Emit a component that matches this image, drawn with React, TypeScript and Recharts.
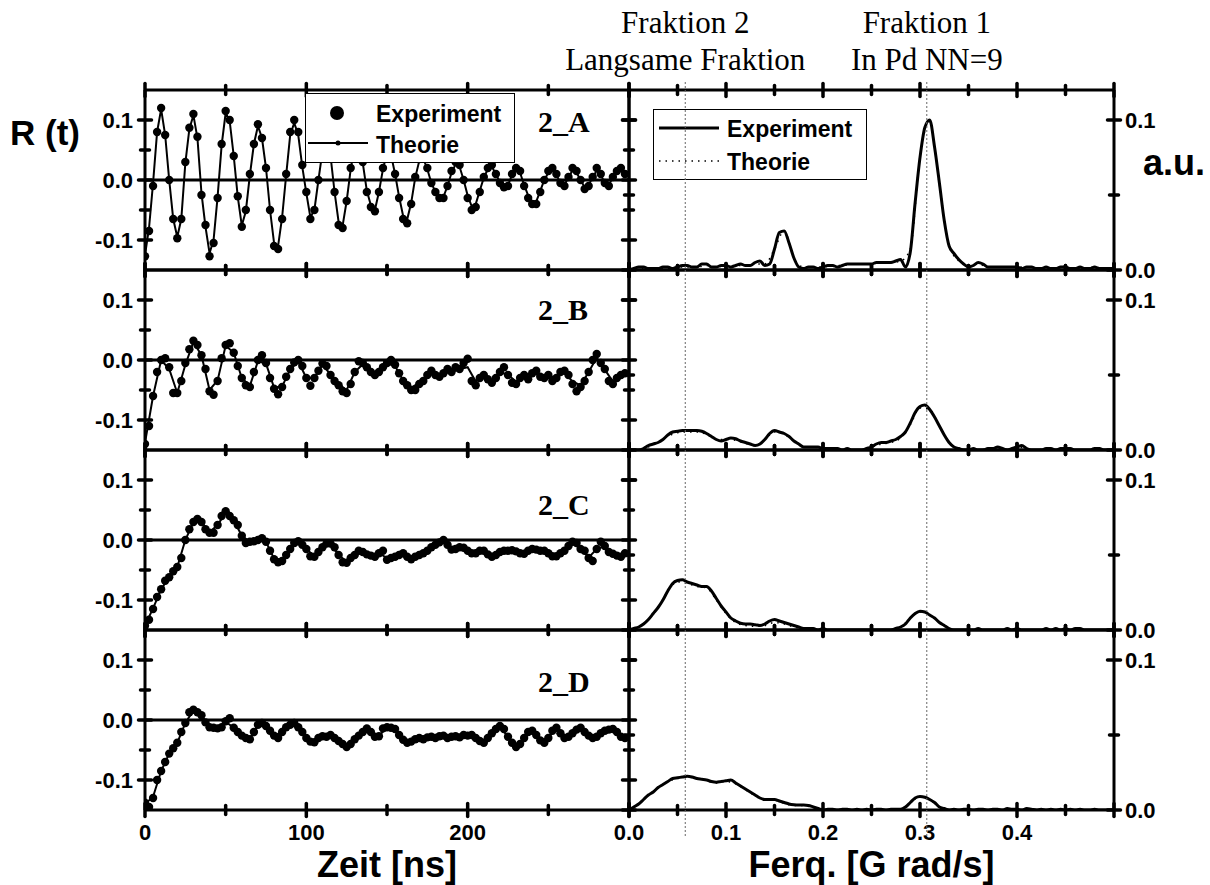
import React from 'react';
import { LineChart, Line, XAxis, YAxis, ReferenceLine, Legend } from 'recharts';

// sampling steps of the stored series
const T_STEP = 2.5; // ns, experiment R(t)
const TH_STEP_A = 2.5; // ns, theory 2_A
const TH_STEP = 5; // ns, theory 2_B..2_D
const F_STEP = 0.005; // G rad/s, experiment spectra
const TH_F_STEP = 0.01; // G rad/s, theory spectra

// R(t) experiment, t = 0 .. 297.5 ns
const expA = [
  -0.127, -0.085, -0.01, 0.08, 0.12, 0.075, 0.0, -0.065, -0.097, -0.065,
  0.03, 0.087, 0.11, 0.072, -0.025, -0.075, -0.127, -0.105, -0.03, 0.06,
  0.115, 0.1, 0.04, -0.027, -0.078, -0.05, 0.01, 0.06, 0.093, 0.07,
  0.02, -0.05, -0.11, -0.115, -0.065, 0.01, 0.08, 0.1, 0.08, 0.025,
  -0.02, -0.065, -0.05, 0.0, 0.05, 0.07, 0.04, -0.02, -0.075, -0.08,
  -0.035, 0.02, 0.06, 0.065, 0.03, -0.02, -0.045, -0.052, -0.02, 0.02,
  0.05, 0.045, 0.01, -0.03, -0.065, -0.072, -0.04, 0.005, 0.035, 0.04,
  0.02, -0.005, -0.02, -0.03, -0.03, -0.01, 0.015, 0.03, 0.025, 0.0,
  -0.03, -0.05, -0.045, -0.02, 0.005, 0.02, 0.025, 0.01, -0.005, -0.012,
  -0.01, 0.01, 0.02, 0.015, -0.01, -0.03, -0.04, -0.04, -0.02, 0.0,
  0.015, 0.02, 0.01, -0.005, -0.01, 0.005, 0.02, 0.015, 0.0, -0.015,
  -0.01, 0.005, 0.02, 0.01, -0.005, -0.01, 0.005, 0.015, 0.02, 0.01,
];
const expB = [
  -0.14, -0.11, -0.06, -0.02, 0.0, 0.003, -0.012, -0.055, -0.055, -0.035,
  -0.005, 0.018, 0.032, 0.025, 0.008, -0.015, -0.052, -0.058, -0.035, 0.003,
  0.025, 0.028, 0.012, -0.01, -0.03, -0.042, -0.045, -0.02, 0.0, 0.008,
  -0.005, -0.03, -0.048, -0.057, -0.045, -0.028, -0.015, -0.004, 0.0, -0.01,
  -0.03, -0.043, -0.03, -0.018, -0.006, -0.01, -0.025, -0.035, -0.042, -0.052,
  -0.055, -0.04, -0.02, -0.002, -0.005, -0.012, -0.02, -0.025, -0.02, -0.012,
  -0.005, 0.0, -0.008, -0.022, -0.035, -0.042, -0.05, -0.05, -0.04, -0.035,
  -0.025, -0.018, -0.025, -0.028, -0.022, -0.015, -0.02, -0.012, -0.015, -0.005,
  0.002, -0.035, -0.042, -0.03, -0.025, -0.032, -0.038, -0.03, -0.02, -0.012,
  -0.025, -0.038, -0.04, -0.03, -0.025, -0.032, -0.022, -0.018, -0.028, -0.03,
  -0.025, -0.035, -0.03, -0.02, -0.018, -0.025, -0.04, -0.052, -0.045, -0.035,
  -0.02, 0.0, 0.01, -0.005, -0.015, -0.035, -0.04, -0.03, -0.025, -0.022,
];
const expC = [
  -0.143, -0.133, -0.115, -0.095, -0.082, -0.068, -0.062, -0.052, -0.045, -0.03,
  0.0, 0.018, 0.03, 0.035, 0.03, 0.018, 0.012, 0.012, 0.025, 0.04,
  0.048, 0.04, 0.033, 0.025, 0.007, -0.005, -0.003, -0.002, 0.0, 0.003,
  -0.003, -0.018, -0.032, -0.037, -0.035, -0.025, -0.015, -0.005, -0.002, -0.008,
  -0.015, -0.027, -0.028, -0.02, -0.012, -0.006, -0.006, -0.012, -0.025, -0.037,
  -0.038, -0.03, -0.025, -0.018, -0.02, -0.024, -0.026, -0.028, -0.022, -0.018,
  -0.033, -0.03, -0.028, -0.025, -0.022, -0.028, -0.032, -0.028, -0.025, -0.022,
  -0.018, -0.012, -0.008, -0.004, 0.0, -0.008, -0.016, -0.015, -0.012, -0.013,
  -0.018, -0.022, -0.022, -0.018, -0.018, -0.024, -0.028, -0.025, -0.02, -0.018,
  -0.018, -0.017, -0.019, -0.022, -0.023, -0.018, -0.015, -0.016, -0.018, -0.018,
  -0.022, -0.027, -0.027, -0.022, -0.018, -0.01, -0.003, -0.005, -0.015, -0.018,
  -0.03, -0.035, -0.015, -0.003, -0.01, -0.02, -0.023, -0.026, -0.028, -0.022,
];
const expD = [
  -0.138, -0.145, -0.13, -0.1, -0.085, -0.07, -0.056, -0.047, -0.038, -0.02,
  -0.005, 0.013, 0.017, 0.013, 0.008, -0.004, -0.012, -0.013, -0.014, -0.012,
  -0.002, 0.003, -0.013, -0.02, -0.026, -0.03, -0.032, -0.02, -0.008, -0.005,
  -0.01, -0.018, -0.026, -0.03, -0.02, -0.012, -0.008, -0.005, -0.012, -0.02,
  -0.03, -0.036, -0.037, -0.03, -0.027, -0.028, -0.025, -0.03, -0.035, -0.04,
  -0.045, -0.04, -0.032, -0.026, -0.02, -0.014, -0.02, -0.028, -0.027, -0.014,
  -0.012, -0.013, -0.015, -0.025, -0.033, -0.038, -0.036, -0.032, -0.03, -0.032,
  -0.029, -0.028, -0.03, -0.027, -0.026, -0.03, -0.028, -0.027, -0.029, -0.025,
  -0.026, -0.025, -0.03, -0.035, -0.038, -0.03, -0.022, -0.015, -0.01, -0.015,
  -0.028, -0.038, -0.045, -0.04, -0.03, -0.02, -0.018, -0.025, -0.034, -0.038,
  -0.03, -0.018, -0.013, -0.022, -0.03, -0.028, -0.022, -0.016, -0.013, -0.02,
  -0.026, -0.03, -0.028, -0.022, -0.018, -0.016, -0.015, -0.02, -0.028, -0.03,
];

// R(t) theory
const thA = [
  -0.125, -0.08, -0.005, 0.08, 0.118, 0.075, 0.0, -0.065, -0.095, -0.065,
  0.028, 0.085, 0.108, 0.07, -0.022, -0.078, -0.122, -0.1, -0.028, 0.058,
  0.112, 0.098, 0.04, -0.028, -0.076, -0.052, 0.008, 0.06, 0.09, 0.07,
  0.02, -0.05, -0.105, -0.11, -0.062, 0.008, 0.075, 0.095, 0.075, 0.022,
  -0.022, -0.062, -0.05, 0.0, 0.048, 0.066, 0.04, -0.02, -0.07, -0.076,
  -0.035, 0.018, 0.056, 0.06, 0.028, -0.018, -0.042, -0.05, -0.02, 0.018,
  0.046, 0.042, 0.01, -0.028, -0.06, -0.066, -0.038, 0.004, 0.032, 0.036,
  0.018, -0.005, -0.02, -0.028, -0.028, -0.01, 0.012, 0.026, 0.022, 0.0,
  -0.026, -0.044, -0.04, -0.018, 0.004, 0.018, 0.022, 0.01, -0.004, -0.01,
  -0.008, 0.008, 0.016, 0.012, -0.008, -0.026, -0.036, -0.036, -0.018, 0.0,
  0.012, 0.016, 0.008, -0.004, -0.008, 0.004, 0.016, 0.012, 0.0, -0.012,
  -0.008, 0.004, 0.016, 0.008, -0.004, -0.008, 0.004, 0.012, 0.016, 0.008,
];
const thB = [
  -0.138, -0.06, 0.0, -0.015, -0.055, -0.008, 0.03, 0.008, -0.05, -0.034,
  0.024, 0.012, -0.03, -0.043, -0.002, -0.006, -0.046, -0.044, -0.016, -0.002,
  -0.03, -0.03, -0.008, -0.024, -0.04, -0.05, -0.02, -0.007, -0.02, -0.02,
  -0.006, -0.01, -0.034, -0.046, -0.038, -0.025, -0.024, -0.022, -0.02, -0.015,
  -0.012, -0.036, -0.026, -0.034, -0.02, -0.025, -0.036, -0.026, -0.022, -0.026,
  -0.026, -0.03, -0.02, -0.036, -0.042, -0.02, 0.004, -0.016, -0.036, -0.026, -0.022,
];
const thC = [
  -0.142, -0.114, -0.082, -0.062, -0.045, 0.0, 0.03, 0.03, 0.013, 0.025,
  0.046, 0.033, 0.007, -0.003, 0.0, -0.003, -0.031, -0.034, -0.015, -0.003,
  -0.015, -0.027, -0.012, -0.007, -0.025, -0.036, -0.025, -0.02, -0.026, -0.022,
  -0.03, -0.027, -0.022, -0.03, -0.025, -0.018, -0.008, -0.001, -0.015, -0.012,
  -0.018, -0.022, -0.018, -0.027, -0.02, -0.018, -0.019, -0.022, -0.015, -0.018,
  -0.022, -0.026, -0.018, -0.004, -0.015, -0.029, -0.015, -0.01, -0.022, -0.027, -0.022,
];
const thD = [
  -0.14, -0.128, -0.085, -0.056, -0.038, -0.005, 0.016, 0.008, -0.012, -0.014,
  -0.003, -0.013, -0.026, -0.031, -0.009, -0.01, -0.026, -0.02, -0.008, -0.012,
  -0.03, -0.036, -0.027, -0.025, -0.035, -0.044, -0.032, -0.02, -0.02, -0.026,
  -0.013, -0.016, -0.033, -0.036, -0.031, -0.029, -0.03, -0.026, -0.028, -0.029,
  -0.026, -0.03, -0.037, -0.022, -0.011, -0.028, -0.044, -0.03, -0.019, -0.034,
  -0.03, -0.014, -0.029, -0.022, -0.014, -0.026, -0.028, -0.019, -0.016, -0.027, -0.03,
];

// spectra, experiment, w = 0 .. 0.5
const specA = [
  0.0, 0.001, 0.002, 0.002, 0.001, 0.001, 0.001, 0.002, 0.002, 0.001,
  0.002, 0.003, 0.003, 0.002, 0.002, 0.004, 0.004, 0.002, 0.002, 0.003,
  0.003, 0.002, 0.003, 0.004, 0.003, 0.003, 0.005, 0.006, 0.003, 0.004,
  0.014, 0.025, 0.026, 0.018, 0.008, 0.002, 0.001, 0.002, 0.002, 0.001,
  0.002, 0.003, 0.003, 0.002, 0.003, 0.004, 0.004, 0.004, 0.004, 0.004,
  0.004, 0.005, 0.005, 0.005, 0.005, 0.006, 0.007, 0.002, 0.012, 0.045,
  0.075, 0.095, 0.1, 0.082, 0.058, 0.033, 0.016, 0.011, 0.007, 0.004,
  0.002, 0.003, 0.005, 0.004, 0.002, 0.002, 0.002, 0.002, 0.002, 0.002,
  0.002, 0.001, 0.002, 0.002, 0.001, 0.001, 0.002, 0.001, 0.001, 0.002,
  0.002, 0.001, 0.001, 0.002, 0.001, 0.001, 0.002, 0.001, 0.001, 0.001,
  0.001,
];
const specB = [
  0.0, 0.0, 0.0, 0.001, 0.003, 0.004, 0.005, 0.007, 0.01, 0.012,
  0.0125, 0.013, 0.013, 0.013, 0.013, 0.0125, 0.011, 0.009, 0.007, 0.006,
  0.007, 0.008, 0.0075, 0.006, 0.005, 0.004, 0.003, 0.004, 0.007, 0.011,
  0.013, 0.012, 0.011, 0.009, 0.006, 0.004, 0.002, 0.002, 0.002, 0.002,
  0.001, 0.001, 0.001, 0.001, 0.0, 0.001, 0.0, 0.0, 0.0, 0.001,
  0.002, 0.004, 0.005, 0.005, 0.006, 0.007, 0.009, 0.012, 0.018, 0.025,
  0.029, 0.03, 0.027, 0.022, 0.016, 0.01, 0.005, 0.002, 0.001, 0.0,
  0.0, 0.001, 0.0, 0.0, 0.001, 0.001, 0.002, 0.001, 0.0, 0.001,
  0.002, 0.003, 0.001, 0.0, 0.0, 0.0, 0.001, 0.001, 0.0, 0.001,
  0.001, 0.001, 0.0, 0.0, 0.0, 0.0, 0.001, 0.001, 0.0, 0.0,
  0.0,
];
const specC = [
  0.0, 0.001, 0.002, 0.004, 0.007, 0.011, 0.015, 0.02, 0.026, 0.031,
  0.033, 0.0335, 0.032, 0.031, 0.03, 0.029, 0.029, 0.026, 0.021, 0.016,
  0.012, 0.008, 0.006, 0.0045, 0.004, 0.004, 0.0035, 0.003, 0.004, 0.006,
  0.007, 0.006, 0.005, 0.004, 0.003, 0.002, 0.001, 0.001, 0.001, 0.0,
  0.001, 0.0, 0.0, 0.0, 0.0, 0.0, 0.0, 0.0, 0.0, 0.0,
  0.0, 0.0, 0.0, 0.0, 0.0, 0.001, 0.002, 0.004, 0.008, 0.011,
  0.0125, 0.012, 0.01, 0.008, 0.005, 0.003, 0.001, 0.0, 0.0, 0.0,
  0.0, 0.0, 0.001, 0.0, 0.0, 0.0, 0.0, 0.0, 0.001, 0.0,
  0.001, 0.0, 0.0, 0.0, 0.0, 0.0, 0.001, 0.0, 0.001, 0.0,
  0.001, 0.0, 0.001, 0.001, 0.0, 0.0, 0.0, 0.0, 0.0, 0.0,
  0.0,
];
const specD = [
  0.0, 0.002, 0.004, 0.007, 0.01, 0.012, 0.015, 0.017, 0.019, 0.021,
  0.0215, 0.022, 0.0225, 0.022, 0.021, 0.0205, 0.02, 0.019, 0.0185, 0.019,
  0.0195, 0.02, 0.018, 0.016, 0.014, 0.012, 0.01, 0.008, 0.007, 0.007,
  0.007, 0.006, 0.005, 0.004, 0.0035, 0.0033, 0.0033, 0.003, 0.002, 0.001,
  0.0, 0.0005, 0.0005, 0.0, 0.0005, 0.0005, 0.0, 0.0005, 0.0, 0.0005,
  0.0, 0.0005, 0.0005, 0.0, 0.0005, 0.0005, 0.0005, 0.002, 0.005, 0.008,
  0.009, 0.0085, 0.007, 0.005, 0.002, 0.001, 0.0, 0.0005, 0.0, 0.0005,
  0.0005, 0.0, 0.0005, 0.0005, 0.0, 0.0005, 0.0005, 0.0, 0.001, 0.0005,
  0.0005, 0.0, 0.001, 0.0005, 0.0, 0.0005, 0.0, 0.0005, 0.0, 0.0005,
  0.0, 0.0005, 0.0, 0.0005, 0.0, 0.0, 0.0005, 0.0, 0.0, 0.0,
  0.0,
];

// spectra, theory
const thFA = [
  0.0, 0.001, 0.001, 0.001, 0.001, 0.002, 0.002, 0.002, 0.003, 0.002,
  0.003, 0.003, 0.003, 0.004, 0.004, 0.014, 0.026, 0.008, 0.002, 0.002,
  0.002, 0.003, 0.003, 0.004, 0.004, 0.004, 0.005, 0.005, 0.006, 0.014,
  0.076, 0.099, 0.057, 0.016, 0.006, 0.003, 0.004, 0.002, 0.002, 0.002,
  0.002, 0.002, 0.001, 0.002, 0.001, 0.002, 0.001, 0.001, 0.002, 0.001, 0.001,
];
const thFB = [
  0.0, 0.0, 0.002, 0.005, 0.009, 0.0115, 0.012, 0.012, 0.0105, 0.007,
  0.007, 0.0065, 0.0045, 0.003, 0.007, 0.012, 0.0105, 0.006, 0.002, 0.002,
  0.001, 0.001, 0.0, 0.0, 0.0, 0.002, 0.004, 0.005, 0.008, 0.017,
  0.028, 0.027, 0.016, 0.005, 0.001, 0.0, 0.0, 0.001, 0.002, 0.0,
  0.002, 0.001, 0.0, 0.001, 0.0, 0.001, 0.0, 0.0, 0.001, 0.0, 0.0,
];
const thFC = [
  0.0, 0.002, 0.007, 0.015, 0.026, 0.032, 0.031, 0.029, 0.028, 0.02,
  0.011, 0.005, 0.003, 0.0025, 0.003, 0.005, 0.004, 0.002, 0.001, 0.0,
  0.0, 0.0, 0.0, 0.0, 0.0, 0.0, 0.0, 0.0, 0.002, 0.008,
  0.012, 0.01, 0.005, 0.001, 0.0, 0.0, 0.0, 0.0, 0.0, 0.0,
  0.001, 0.0, 0.0, 0.0, 0.0, 0.0, 0.0, 0.0, 0.0, 0.0, 0.0,
];
const thFD = [
  0.0, 0.004, 0.01, 0.015, 0.019, 0.021, 0.022, 0.021, 0.0195, 0.018,
  0.019, 0.0175, 0.0135, 0.0095, 0.0065, 0.0065, 0.0045, 0.003, 0.003, 0.0015,
  0.0, 0.0, 0.0, 0.0, 0.0, 0.0, 0.0, 0.0, 0.0005, 0.005,
  0.0088, 0.0068, 0.002, 0.0, 0.0, 0.0, 0.0, 0.0, 0.0, 0.0,
  0.0, 0.0, 0.0, 0.0, 0.0, 0.0, 0.0, 0.0, 0.0, 0.0, 0.0,
];

const PANEL_NAMES = ['2_A', '2_B', '2_C', '2_D'];
const TIME_TICKS = [0, 50, 100, 150, 200, 250, 300];
const TIME_MAJOR = [0, 100, 200, 300];
const TIME_LABELS = [0, 100, 200];
const R_TICKS = [-0.1, -0.05, 0, 0.05, 0.1];
const R_LABELS = [-0.1, 0, 0.1];
const FREQ_TICKS = [0, 0.05, 0.1, 0.15, 0.2, 0.25, 0.3, 0.35, 0.4, 0.45, 0.5];
const FREQ_MAJOR = [0, 0.1, 0.2, 0.3, 0.4, 0.5];
const FREQ_LABELS = [0, 0.1, 0.2, 0.3, 0.4];
const AMP_TICKS = [0, 0.05, 0.1];
const AMP_LABELS = [0, 0.1];
const FRACTION_AT = [0.058, 0.307];
const FRACTION_TEXT = [
  ['Fraktion 2', 'Langsame Fraktion'],
  ['Fraktion 1', 'In Pd NN=9'],
];

const EXP_LEFT = [expA, expB, expC, expD];
const TH_LEFT = [thA, thB, thC, thD];
const TH_LEFT_STEP = [TH_STEP_A, TH_STEP, TH_STEP, TH_STEP];
const SPEC = [specA, specB, specC, specD];
const TH_SPEC = [thFA, thFB, thFC, thFD];

// layout
const LEFT_X = 145;
const MID_X = 629;
const RIGHT_X = 1114;
const ROW_TOP = [90, 270, 450, 630];
const PANEL_H = 180;
const NAME_DY = [42, 50, 65, 62];
const AX = 1; // px reserved for each axis strip

const SANS = '"Liberation Sans", Arial, Helvetica, sans-serif';
const SERIF = '"Liberation Serif", "Times New Roman", serif';
const tickFont = { fontFamily: SANS, fontWeight: 700, fontSize: 22, fill: '#000' };
const AXIS_LINE = { stroke: '#000', strokeWidth: 3 };

const toPoints = (vals: number[], step: number) =>
  vals.map((v, i) => ({ x: Math.round(i * step * 10000) / 10000, y: v }));

const has = (arr: number[], v: number) => arr.some(a => Math.abs(a - v) < 1e-9);

type Side = 'left' | 'right' | 'top' | 'bottom';

function tickRenderer(side: Side, labels: number[], majors: number[], fmt: (v: number) => string) {
  return (props: any) => {
    const { x, y, payload } = props;
    const v = payload.value;
    const len = has(majors, v) ? 6.5 : 4.5;
    const vert = side === 'left' || side === 'right';
    let label = null;
    if (has(labels, v)) {
      if (side === 'left') {
        label = <text x={x - 12} y={y + 8} textAnchor="end" {...tickFont}>{fmt(v)}</text>;
      } else if (side === 'right') {
        label = <text x={x + 11} y={y + 8} textAnchor="start" {...tickFont}>{fmt(v)}</text>;
      } else if (side === 'bottom') {
        label = <text x={x} y={y + 30} textAnchor="middle" {...tickFont}>{fmt(v)}</text>;
      }
    }
    return (
      <g>
        <line
          x1={vert ? x - len : x}
          x2={vert ? x + len : x}
          y1={vert ? y : y - len}
          y2={vert ? y : y + len}
          stroke="#000"
          strokeWidth={3.5}
          strokeLinecap="round"
        />
        {label}
      </g>
    );
  };
}

const legendText = { fontFamily: SANS, fontWeight: 700, fontSize: 23, fill: '#000' };

const TimeLegend = () => (
  <div style={{ width: 210, height: 70, border: '1.5px solid #000', background: '#fff', boxSizing: 'border-box' }}>
    <svg width={207} height={67}>
      <circle cx={31} cy={19} r={7} fill="#000" />
      <text x={70} y={28} {...legendText}>Experiment</text>
      <line x1={2} x2={62} y1={49} y2={49} stroke="#000" strokeWidth={2} />
      <circle cx={32} cy={49} r={2.5} fill="#000" />
      <text x={70} y={59} {...legendText}>Theorie</text>
    </svg>
  </div>
);

const FreqLegend = () => (
  <div style={{ width: 214, height: 71, border: '1.5px solid #000', background: '#fff', boxSizing: 'border-box' }}>
    <svg width={211} height={68}>
      <line x1={5} x2={65} y1={18} y2={18} stroke="#000" strokeWidth={3} />
      <text x={73} y={27} {...legendText}>Experiment</text>
      <line x1={5} x2={65} y1={51} y2={51} stroke="#000" strokeWidth={1.5} strokeDasharray="1.5 5" />
      <text x={73} y={60} {...legendText}>Theorie</text>
    </svg>
  </div>
);

// shared axis props; each strip is AX px wide and sits just outside the plot box
const axisCommon = {
  allowDataOverflow: true,
  axisLine: AXIS_LINE,
  tickLine: false,
  tickSize: 0,
  tickMargin: 0,
  interval: 0 as const,
};

function TimePanel({ row }: { row: number }) {
  const last = row === ROW_TOP.length - 1;
  const fmtT = (v: number) => String(v);
  const fmtR = (v: number) => v.toFixed(1);
  return (
    <div style={{ position: 'absolute', left: LEFT_X - AX, top: ROW_TOP[row] - AX }}>
      <LineChart width={MID_X - LEFT_X + 2 * AX} height={PANEL_H + 2 * AX} margin={{ top: 0, right: 0, bottom: 0, left: 0 }}>
        <XAxis xAxisId="b" orientation="bottom" type="number" dataKey="x" domain={[0, 300]} ticks={TIME_TICKS}
          height={AX} {...axisCommon} tick={tickRenderer('bottom', last ? TIME_LABELS : [], TIME_MAJOR, fmtT)} />
        <XAxis xAxisId="t" orientation="top" type="number" dataKey="x" domain={[0, 300]} ticks={TIME_TICKS}
          height={AX} {...axisCommon} tick={tickRenderer('top', [], TIME_MAJOR, fmtT)} />
        <YAxis yAxisId="l" orientation="left" type="number" domain={[-0.15, 0.15]} ticks={R_TICKS}
          width={AX} {...axisCommon} tick={tickRenderer('left', R_LABELS, R_LABELS, fmtR)} />
        <YAxis yAxisId="r" orientation="right" type="number" domain={[-0.15, 0.15]} ticks={R_TICKS}
          width={AX} {...axisCommon} tick={tickRenderer('right', [], R_LABELS, fmtR)} />
        <ReferenceLine xAxisId="b" yAxisId="l" y={0} stroke="#000" strokeWidth={3} />
        <Line xAxisId="b" yAxisId="l" data={toPoints(TH_LEFT[row], TH_LEFT_STEP[row])} dataKey="y" name="Theorie"
          stroke="#000" strokeWidth={2} dot={false} activeDot={false} isAnimationActive={false} />
        <Line xAxisId="b" yAxisId="l" data={toPoints(EXP_LEFT[row], T_STEP)} dataKey="y" name="Experiment"
          stroke="none" strokeWidth={0} dot={{ r: 4.2, fill: '#000', stroke: 'none' }} activeDot={false}
          isAnimationActive={false} />
        {row === 0 && (
          <Legend layout="vertical" align="center" verticalAlign="middle" content={() => <TimeLegend />}
            wrapperStyle={{ left: 160 + AX, top: 3 + AX, width: 210, height: 70 }} />
        )}
      </LineChart>
    </div>
  );
}

function FreqPanel({ row }: { row: number }) {
  const last = row === ROW_TOP.length - 1;
  const fmt = (v: number) => v.toFixed(1);
  return (
    <div style={{ position: 'absolute', left: MID_X - AX, top: ROW_TOP[row] - AX }}>
      <LineChart width={RIGHT_X - MID_X + 2 * AX} height={PANEL_H + 2 * AX} margin={{ top: 0, right: 0, bottom: 0, left: 0 }}>
        <XAxis xAxisId="b" orientation="bottom" type="number" dataKey="x" domain={[0, 0.5]} ticks={FREQ_TICKS}
          height={AX} {...axisCommon} tick={tickRenderer('bottom', last ? FREQ_LABELS : [], FREQ_MAJOR, fmt)} />
        <XAxis xAxisId="t" orientation="top" type="number" dataKey="x" domain={[0, 0.5]} ticks={FREQ_TICKS}
          height={AX} {...axisCommon} tick={tickRenderer('top', [], FREQ_MAJOR, fmt)} />
        <YAxis yAxisId="l" orientation="left" type="number" domain={[0, 0.12]} ticks={AMP_TICKS}
          width={AX} {...axisCommon} tick={tickRenderer('left', [], AMP_LABELS, fmt)} />
        <YAxis yAxisId="r" orientation="right" type="number" domain={[0, 0.12]} ticks={AMP_TICKS}
          width={AX} {...axisCommon} tick={tickRenderer('right', AMP_LABELS, AMP_LABELS, fmt)} />
        <Line xAxisId="b" yAxisId="l" type="monotone" data={toPoints(TH_SPEC[row], TH_F_STEP)} dataKey="y"
          name="Theorie" stroke="#000" strokeWidth={1.5} strokeDasharray="1.5 5" dot={false} activeDot={false}
          isAnimationActive={false} />
        <Line xAxisId="b" yAxisId="l" type="monotone" data={toPoints(SPEC[row], F_STEP)} dataKey="y"
          name="Experiment" stroke="#000" strokeWidth={3} dot={false} activeDot={false} isAnimationActive={false} />
        {row === 0 && (
          <Legend layout="vertical" align="center" verticalAlign="middle" content={() => <FreqLegend />}
            wrapperStyle={{ left: 24 + AX, top: 19 + AX, width: 214, height: 71 }} />
        )}
      </LineChart>
    </div>
  );
}

const fractionLabel = (lines: string[]) => (props: any) => {
  const vb = props.viewBox || {};
  const cx = vb.x;
  const top = vb.y;
  return (
    <text textAnchor="middle" fontFamily={SERIF} fontSize={31} fill="#000">
      <tspan x={cx} y={top - 49}>{lines[0]}</tspan>
      <tspan x={cx} y={top - 12}>{lines[1]}</tspan>
    </text>
  );
};

function FractionLines() {
  const top = 82;
  const bottom = 836;
  return (
    <div style={{ position: 'absolute', left: MID_X, top, pointerEvents: 'none' }}>
      <LineChart width={RIGHT_X - MID_X} height={bottom - top} margin={{ top: 0, right: 0, bottom: 0, left: 0 }}>
        <XAxis type="number" dataKey="x" domain={[0, 0.5]} hide allowDataOverflow />
        <YAxis type="number" domain={[0, 1]} hide allowDataOverflow />
        {FRACTION_AT.map((w, i) => (
          <ReferenceLine key={w} x={w} stroke="#666" strokeWidth={1} strokeDasharray="2 2"
            label={fractionLabel(FRACTION_TEXT[i])} />
        ))}
      </LineChart>
    </div>
  );
}

export default function App() {
  const titleFont = { fontFamily: SANS, fontWeight: 700, fill: '#000' };
  return (
    <div style={{ position: 'relative', width: 1210, height: 885, background: '#fff', overflow: 'hidden' }}>
      <style>{'body{margin:0}.recharts-surface{overflow:visible}'}</style>
      {ROW_TOP.map((_, r) => <TimePanel key={`t${r}`} row={r} />)}
      {ROW_TOP.map((_, r) => <FreqPanel key={`f${r}`} row={r} />)}
      <FractionLines />
      <svg width={1210} height={885} style={{ position: 'absolute', left: 0, top: 0, pointerEvents: 'none' }}>
        <text x={10} y={145} fontSize={35} {...titleFont}>R (t)</text>
        <text x={1143} y={175} fontSize={36} {...titleFont}>a.u.</text>
        <text x={(LEFT_X + MID_X) / 2} y={877} fontSize={36} textAnchor="middle" {...titleFont}>Zeit [ns]</text>
        <text x={(MID_X + RIGHT_X) / 2} y={877} fontSize={36} textAnchor="middle" {...titleFont}>Ferq. [G rad/s]</text>
        {PANEL_NAMES.map((n, i) => (
          <text key={n} x={538} y={ROW_TOP[i] + NAME_DY[i]} fontFamily={SERIF} fontWeight={700} fontSize={30} fill="#000">
            {n}
          </text>
        ))}
      </svg>
    </div>
  );
}
